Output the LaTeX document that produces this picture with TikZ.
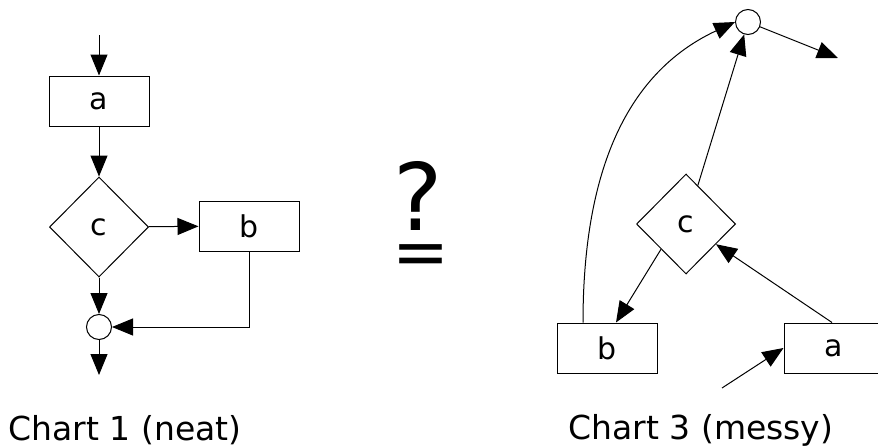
\documentclass[tikz,border=0pt]{standalone}
\usepackage{fontspec}
\setmainfont{DejaVu Sans}
\usepackage{tikz}
\usetikzlibrary{arrows.meta,positioning,shapes.geometric}
\newcommand{\nodefont}{\fontsize{30}{30}\selectfont}
\newcommand{\capfont}{\fontsize{33}{33}\selectfont}
\tikzset{
  box/.style={draw,line width=1pt,minimum width=100pt,minimum height=50pt,inner sep=0pt,font=\nodefont},
  choice/.style={draw,line width=1pt,diamond,minimum width=99pt,minimum height=100pt,inner sep=0pt,font=\nodefont},
  joint/.style={draw,line width=1pt,circle,minimum size=25pt,inner sep=0pt},
  flow/.style={-{Triangle[length=21pt,width=17pt]},line width=1pt},
  caption/.style={font=\capfont}
}

\begin{document}
\begin{tikzpicture}[x=1pt,y=1pt]
  \useasboundingbox (0,0) rectangle (878,-447);
  % chart 1
  \coordinate (in1) at (99,-35);
  \node[box] (a1) at (99,-101) {a};
  \node[choice] (c1) at (99,-227) {c};
  \node[box] (b1) at (249,-226) {b};
  \node[joint] (j1) at (99,-327) {};
  \coordinate (out1) at (99,-375);
  \draw[flow] (in1) -- (a1);
  \draw[flow] (a1) -- (c1);
  \draw[flow] (c1) -- (b1);
  \draw[flow] (c1) -- (j1);
  \draw[flow] (b1.south) |- (j1);
  \draw[flow] (j1) -- (out1);
  \node[caption] (cap1) at (125,-430) {Chart 1 (neat)};
  % the question
  \node[font=\fontsize{93}{93}\selectfont,inner sep=1pt] (qm) at (418,-196) {?};
  \node[font=\fontsize{68}{68}\selectfont,inner sep=1pt] (eq) at (421,-260) {=};
  % chart 3
  \node[joint] (j3) at (748,-22) {};
  \coordinate (out3) at (838,-58);
  \node[choice] (c3) at (686,-224) {c};
  \node[box] (b3) at (607,-348) {b};
  \node[box] (a3) at (834,-348) {a};
  \coordinate (in3) at (722,-388);
  \draw[flow] (j3) -- (out3);
  \draw[flow] (c3) -- (j3);
  \draw[flow] ([xshift=-2pt]a3.north) -- (c3);
  \draw[flow] (c3.south west) -- ([xshift=9pt]b3.north);
  \draw[flow] ([xshift=-24pt]b3.north) to[out=90,in=205] (j3.west);
  \draw[flow] (in3) -- (a3.west);
  \node[caption] (cap3) at (701,-430) {Chart 3 (messy)};
\end{tikzpicture}
\end{document}
